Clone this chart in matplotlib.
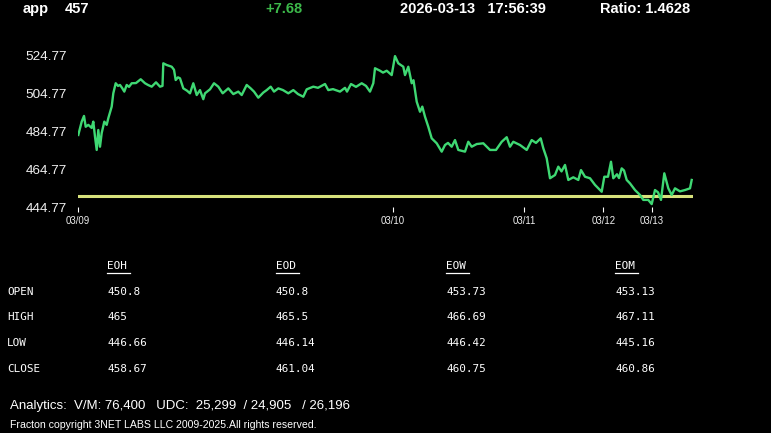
import matplotlib.pyplot as plt
from matplotlib import font_manager

# serie de precos (posicao no grafico, preco)
t = [0.3, 3.7, 6, 7.7, 10.3, 13.7, 15.3, 17, 18.7, 20.3, 22, 23.7, 26.3, 28.7, 30.3,
     33.7, 35.3, 37.7, 40, 42, 44, 46.3, 48.7, 51, 53.7, 58, 62.7, 67, 70, 73.7,
     78, 82, 84.5, 85.3, 88.7, 93.7, 96, 97.7, 100, 102, 105.3, 109, 112, 115.3,
     118.7, 122, 125.3, 127, 132, 136, 140.3, 144.7, 150.3, 155.3, 160.3, 163.7,
     168.7, 172.7, 176, 180.3, 185.3, 188.7, 192.7, 196, 200.3, 205, 210.3, 215.3,
     220, 225.3, 228.7, 235.3, 240, 247, 250.3, 255, 262, 267, 269, 273, 278,
     283.7, 288, 292, 295.3, 297, 302, 305, 308.7, 313.7, 317, 320.3, 325.3, 327,
     330.3, 333.7, 335.5, 338.7, 342, 344.3, 347, 350.3, 353.7, 358.7, 363.7, 367,
     370, 373.7, 377, 380.3, 387, 390.3, 393.7, 398.7, 405.3, 412, 418, 423.7,
     428.7, 432, 435.3, 442, 448.7, 453.7, 458, 462.7, 465.3, 468.7, 472, 477,
     480.3, 483.5, 487, 490.3, 495.3, 500.3, 503, 507, 512, 517, 523.7, 526.3,
     530, 533, 535.3, 539, 541, 543.7, 546, 548.7, 552, 557, 562, 565.3, 570.3,
     573.7, 577, 580, 583, 586.3, 590.3, 593.7, 597, 602, 607, 612, 613.7]
preco = [482.7, 489.7, 492.7, 487, 488, 486.4, 489.7, 481.8, 474.8, 485.3, 476.5,
         483.7, 489.7, 488, 491.5, 497.6, 504.6, 509.9, 508.5, 509, 507.5, 505.5,
         509, 508, 509.9, 510, 512, 509.9, 509, 508.1, 510.4, 508.1, 508.5, 520.4,
         519.5, 518.6, 517, 511.6, 513, 512.5, 507.2, 506, 504.6, 509.9, 503.7,
         506.3, 501.5, 504.6, 506.7, 509.9, 508.1, 504.6, 507.2, 504.2, 505.5,
         503.7, 509, 507.2, 505.5, 502.3, 505, 506.3, 508.1, 505.5, 507.2, 506.3,
         504.6, 506.3, 504.2, 502.8, 506.7, 508.1, 507.5, 509.5, 506.3, 506.8,
         505.5, 507.5, 505.5, 509.5, 508, 509.9, 508.5, 505.5, 509.9, 517.8, 516.5,
         515.5, 516.5, 514.2, 524.2, 520.4, 518.6, 514.2, 518.6, 509.9, 511.5,
         500.2, 494.9, 497.6, 492.3, 487, 480.9, 478.3, 473.9, 477.4, 478.5, 476.5,
         480, 474.8, 473.9, 479.1, 476.5, 477.9, 478.3, 474.8, 474.8, 479.1, 481.5,
         476.5, 479.1, 477.4, 474.8, 480, 478.5, 480.9, 475.7, 470.4, 459.9, 461.6,
         466, 463.5, 466.9, 459, 460.4, 459, 464.2, 460.7, 459.9, 456.4, 452.8,
         460.7, 460.7, 468.6, 459.9, 462, 460, 465.1, 464, 459, 457.2, 453.7, 451.1,
         448.5, 448.5, 446.3, 453.7, 452.5, 448.5, 462.5, 454.6, 451.1, 454.6, 453,
         453.7, 454.6, 459]

abertura = 450.8
yticks = [444.77, 464.77, 484.77, 504.77, 524.77]
xticks = [0, 314.5, 446.3, 525.3, 573.7]
xlabels = ["03/09", "03/10", "03/11", "03/12", "03/13"]

colunas = ["EOH", "EOD", "EOW", "EOM"]
linhas = ["OPEN", "HIGH", "LOW", "CLOSE"]
tabela = [
    ["450.8", "465", "446.66", "458.67"],
    ["450.8", "465.5", "446.14", "461.04"],
    ["453.73", "466.69", "446.42", "460.75"],
    ["453.13", "467.11", "445.16", "460.86"],
]

nomes = {f.name for f in font_manager.fontManager.ttflist}
sans = "Liberation Sans" if "Liberation Sans" in nomes else "DejaVu Sans"
mono = "DejaVu Sans Mono"

W, H = 771, 433
fig = plt.figure(figsize=(W / 100, H / 100), dpi=100, facecolor="black")

def fx(px):
    return px / W

def fy(py):
    return 1 - py / H

ax = fig.add_axes([fx(78), fy(207), (693 - 78) / W, (207 - 55) / H])
ax.set_facecolor("black")
ax.plot(t, preco, color="#3fd873", lw=1.7, solid_joinstyle="round", zorder=3)
ax.axhline(abertura, color="#d8e27c", lw=2.2, zorder=2)
ax.set_xlim(0, 615)
ax.set_ylim(444.77, 524.77)
for s in ax.spines.values():
    s.set_visible(False)
ax.set_yticks(yticks, [f"{v:.2f}" for v in yticks])
ax.set_xticks(xticks, xlabels)
ax.tick_params(axis="y", length=0, pad=8, labelsize=9.7, labelcolor="#f0f0f0")
ax.tick_params(axis="x", length=3.3, width=0.8, color="white", pad=3,
               labelsize=6.9, labelcolor="#f0f0f0")
for lab in ax.get_xticklabels() + ax.get_yticklabels():
    lab.set_fontfamily(sans)

# cabecalho
hdr = dict(color="white", fontsize=10.5, fontweight="bold", family=sans, va="center")
fig.text(fx(23), fy(9), "app", **hdr)
fig.text(fx(65), fy(9), "457", **hdr)
fig.text(fx(265), fy(9), "+7.68", **{**hdr, "color": "#3cb84a"})
fig.text(fx(400), fy(9), "2026-03-13   17:56:39", **hdr)
fig.text(fx(600), fy(9), "Ratio: 1.4628", **hdr)

# tabela
cx = [107, 276, 446, 615]
ry = [292, 317, 343, 369]
for c, nome in enumerate(colunas):
    fig.text(fx(cx[c]), fy(266), nome, color="white", fontsize=7.9,
             family=mono, va="center")
    fig.lines.append(plt.Line2D([fx(cx[c]), fx(cx[c] + 23)], [fy(273), fy(273)],
                                color="white", lw=0.9, transform=fig.transFigure))
    for r in range(4):
        fig.text(fx(cx[c]), fy(ry[r]), tabela[c][r], color="white", fontsize=7.9,
                 family=mono, va="center")
for r, nome in enumerate(linhas):
    fig.text(fx(7), fy(ry[r]), nome, color="white", fontsize=7.9, family=mono,
             va="center")

# rodape
fig.text(fx(10), fy(406), "Analytics:  V/M: 76,400   UDC:  25,299  / 24,905   / 26,196",
         color="white", fontsize=9.5, family=sans, va="center")
fig.text(fx(10), fy(425), "Fracton copyright 3NET LABS LLC 2009-2025.All rights reserved.",
         color="white", fontsize=7.6, family=sans, va="center")

fig.savefig("out.png", dpi=100, facecolor="black")
